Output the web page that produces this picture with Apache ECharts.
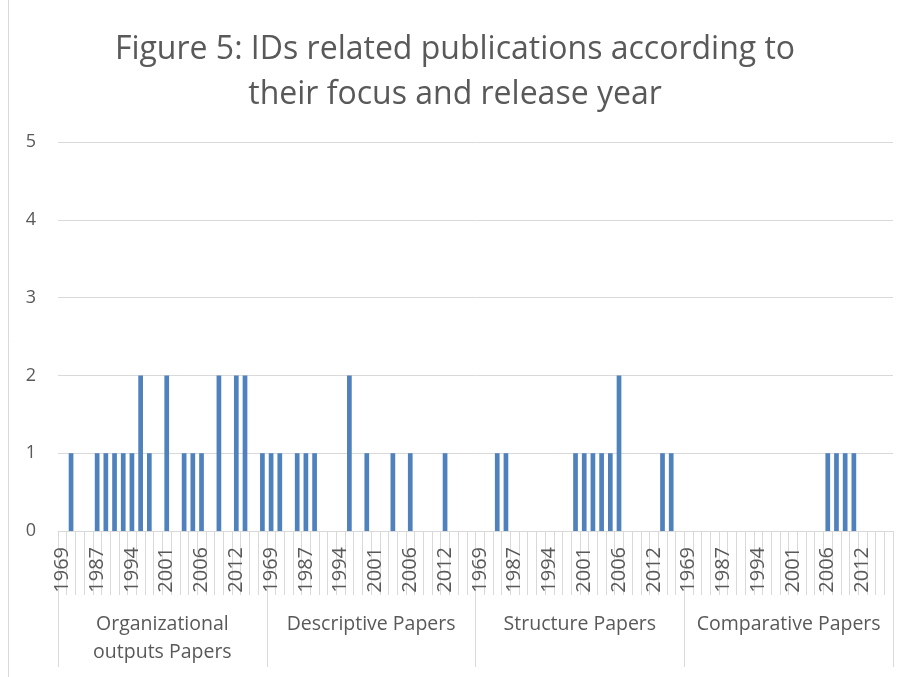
<!DOCTYPE html>
<html>
<head>
<meta charset="utf-8">
<script src="https://cdn.jsdelivr.net/npm/echarts@6/dist/echarts.min.js"></script>
<style>
html,body{margin:0;padding:0;background:#fff;}
#chart{width:910px;height:677px;}
</style>
</head>
<body>
<div id="chart"></div>
<script>
const titleText = "Figure 5: IDs related publications according to\ntheir focus and release year";
const groups = ["Organizational\noutputs Papers", "Descriptive Papers", "Structure Papers", "Comparative Papers"];
const years = ["1969","1975","1980","1985","1987","1988","1990","1992","1994","1995","1997","1999",
               "2001","2002","2003","2004","2006","2007","2008","2010","2012","2013","2014","2015"];
const organizational = [0,1,0,0,1,1,1,1,1,2,1,0,2,0,1,1,1,0,2,0,2,2,0,1];
const descriptive    = [1,1,0,1,1,1,0,0,0,2,0,1,0,0,1,0,1,0,0,0,1,0,0,0];
const structure      = [0,0,1,1,0,0,0,0,0,0,0,1,1,1,1,1,2,0,0,0,0,1,1,0];
const comparative    = [0,0,0,0,0,0,0,0,0,0,0,0,0,0,0,0,1,1,1,1,0,0,0,0];
const yTicks = [0,1,2,3,4,5];

const groupValues = [organizational, descriptive, structure, comparative];
const categories = [];
const values = [];
groups.forEach((g, gi) => {
  years.forEach((y, yi) => {
    categories.push(gi + "|" + y);
    values.push(groupValues[gi][yi]);
  });
});

const FONT = '"Open Sans", "Noto Sans", sans-serif';
const chart = echarts.init(document.getElementById('chart'));
chart.setOption({
  animation: false,
  backgroundColor: '#ffffff',
  title: {
    text: titleText,
    left: 'center',
    top: 22,
    textStyle: {
      fontFamily: FONT,
      fontSize: 32,
      fontWeight: 'normal',
      color: '#595959',
      lineHeight: 45
    }
  },
  graphic: [{
    type: 'line',
    shape: {x1: 8.5, y1: 0, x2: 8.5, y2: 677},
    style: {stroke: '#d9d9d9', lineWidth: 1}
  }],
  grid: {left: 58, right: 17, top: 142, bottom: 146},
  xAxis: [{
    type: 'category',
    position: 'bottom',
    data: categories,
    axisLine: {show: true, lineStyle: {color: '#d9d9d9', width: 1}},
    axisTick: {show: true, interval: 0, length: 64, lineStyle: {color: '#d9d9d9', width: 1}},
    axisLabel: {
      interval: 3,
      rotate: 90,
      margin: 16,
      fontFamily: FONT,
      fontSize: 20,
      color: '#595959',
      formatter: v => v.split('|')[1]
    },
    splitLine: {show: false}
  }, {
    type: 'category',
    position: 'bottom',
    data: groups,
    axisLine: {show: false},
    axisTick: {show: true, interval: 0, length: 136, lineStyle: {color: '#d9d9d9', width: 1}},
    axisLabel: {
      interval: 0,
      margin: 79,
      fontFamily: FONT,
      fontSize: 19.5,
      lineHeight: 28,
      color: '#595959'
    },
    splitLine: {show: false}
  }],
  yAxis: {
    type: 'value',
    min: 0,
    max: 5,
    interval: 1,
    axisLine: {show: false},
    axisTick: {show: false},
    axisLabel: {
      margin: 22,
      fontFamily: FONT,
      fontSize: 18,
      color: '#595959',
      formatter: v => String(yTicks[yTicks.indexOf(v)])
    },
    splitLine: {lineStyle: {color: '#d9d9d9', width: 1}}
  },
  series: [{
    type: 'bar',
    xAxisIndex: 0,
    data: values,
    barWidth: '54%',
    itemStyle: {color: '#4f81bd'}
  }]
});
</script>
</body>
</html>
